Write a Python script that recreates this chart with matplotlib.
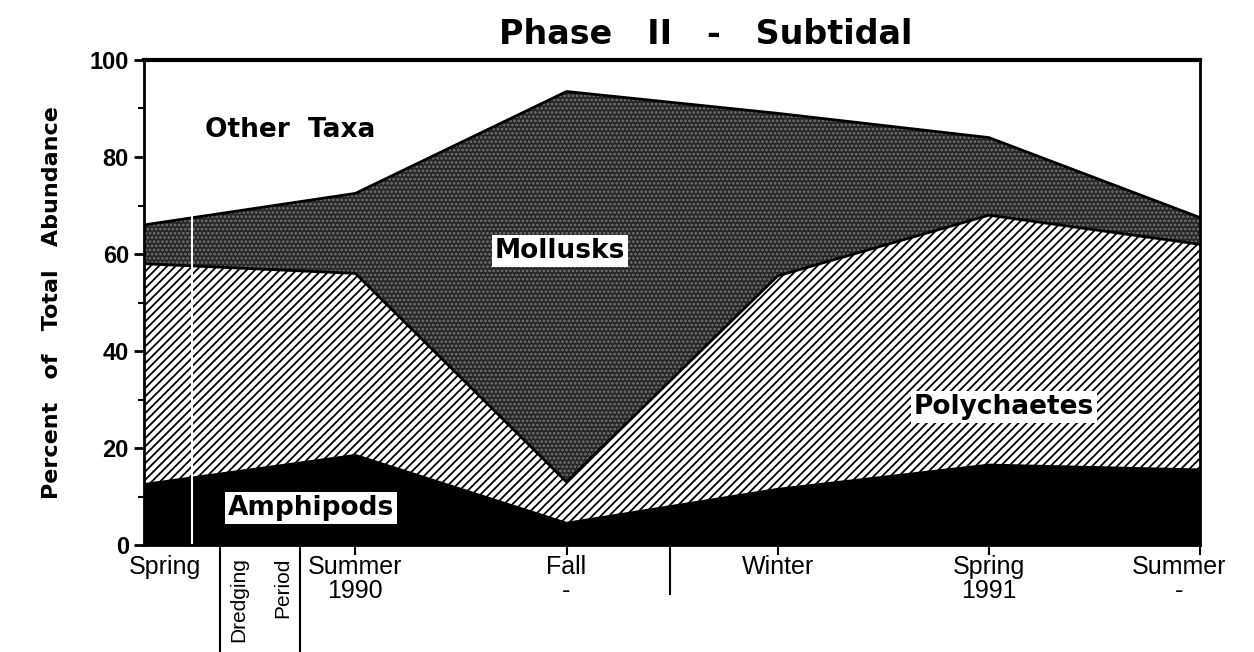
import matplotlib
matplotlib.use("Agg")
import matplotlib.pyplot as plt
import numpy as np
from matplotlib.ticker import MultipleLocator
from matplotlib import font_manager

plt.rcParams['font.family'] = ['DejaVu Sans']
plt.rcParams['hatch.linewidth'] = 1.3

names = {f.name for f in font_manager.fontManager.ttflist}
narrow = 'Liberation Sans Narrow' if 'Liberation Sans Narrow' in names else 'Liberation Sans'

# seasons sampled (x = 0..5)
seasons = ["Spring", "Summer\n1990", "Fall\n-", "Winter", "Spring\n1991", "Summer\n-"]
# percent of total abundance per group
amphipods = [12.5, 18.5, 4.5, 11.5, 16.5, 15.5]
polychaetes = [45.5, 37.5, 8.5, 44.0, 51.5, 46.5]
mollusks = [8.0, 16.5, 80.5, 33.5, 16.0, 5.5]
other_taxa = [34.0, 27.5, 6.5, 11.0, 16.0, 32.5]

x = np.arange(len(seasons))
amph_top = np.array(amphipods)
poly_top = amph_top + np.array(polychaetes)
moll_top = poly_top + np.array(mollusks)
other_top = moll_top + np.array(other_taxa)

fig = plt.figure(figsize=(12.54, 6.52), dpi=100)
ax = fig.add_axes([0.115, 0.164, 0.842, 0.744])

ax.fill_between(x, 0, amph_top, facecolor='black', linewidth=0)
ax.fill_between(x, amph_top, poly_top, facecolor='white', edgecolor='black',
                hatch='////', linewidth=0)
ax.fill_between(x, poly_top, moll_top, facecolor='#262626', edgecolor='#747474',
                hatch='....', linewidth=0)
ax.fill_between(x, moll_top, other_top, facecolor='white', linewidth=0)
for top in (amph_top, poly_top, moll_top):
    ax.plot(x, top, color='black', lw=2)

# white line across the plot near the first sample
ax.axvline(0.225, color='white', lw=1.5)

ax.set_xlim(0, 5)
ax.set_ylim(0, 100)
ax.yaxis.set_major_locator(MultipleLocator(20))
ax.yaxis.set_minor_locator(MultipleLocator(10))
ax.tick_params(axis='y', which='major', length=7, width=2, labelsize=17, pad=4)
ax.tick_params(axis='y', which='minor', length=4, width=1.5)
for lbl in ax.get_yticklabels():
    lbl.set_fontweight('bold')
    lbl.set_family(narrow)
ax.set_xticks(x[1:])
ax.set_xticklabels([])
ax.tick_params(axis='x', length=7, width=1.5)
for s in ax.spines.values():
    s.set_linewidth(2)
ax.spines['top'].set_linewidth(3)

# season labels
label_x = [0.1, 1.0, 2.0, 3.0, 4.0, 4.9]
for lx, s in zip(label_x, seasons):
    ax.text(lx, -0.02, s, transform=ax.get_xaxis_transform(), ha='center',
            va='top', fontsize=18, linespacing=1.0, family=narrow)

# dredging period markers below axis
for dx in (0.36, 0.74):
    ax.plot([dx, dx], [0, -0.235], transform=ax.get_xaxis_transform(),
            color='black', lw=1.5, clip_on=False)
ax.plot([2.49, 2.49], [0, -0.1], transform=ax.get_xaxis_transform(),
        color='black', lw=1.5, clip_on=False)
ax.text(0.45, -0.025, "Dredging", transform=ax.get_xaxis_transform(),
        rotation=90, ha='center', va='top', fontsize=15, family=narrow)
ax.text(0.655, -0.025, "Period", transform=ax.get_xaxis_transform(),
        rotation=90, ha='center', va='top', fontsize=15, family=narrow)

# group labels
box = dict(facecolor='white', edgecolor='none', pad=2)
ax.text(0.69, 85.5, "Other  Taxa", ha='center', va='center', fontsize=19, fontweight='bold')
ax.text(1.97, 60.7, "Mollusks", ha='center', va='center', fontsize=19,
        fontweight='bold', bbox=box)
ax.text(4.07, 28.4, "Polychaetes", ha='center', va='center', fontsize=19,
        fontweight='bold', bbox=box)
ax.text(0.79, 7.6, "Amphipods", ha='center', va='center', fontsize=19,
        fontweight='bold', bbox=box)

ax.set_ylabel("Percent   of   Total   Abundance", fontsize=16, fontweight='bold', labelpad=20)
fig.suptitle("Phase   II   -   Subtidal", x=0.563, y=0.973, fontsize=24, fontweight='bold')

fig.savefig("out.png", dpi=100)
